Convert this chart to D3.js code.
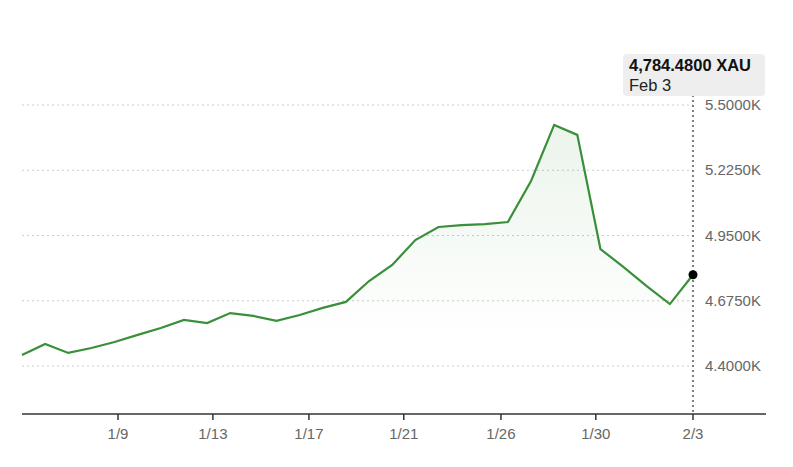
<!DOCTYPE html><html><head><meta charset="utf-8"><script src="https://cdn.jsdelivr.net/npm/d3@7"></script>
<style>body{margin:0;background:#fff}text{font-family:"Liberation Sans",Arial,sans-serif}</style></head><body>
<svg id="c" width="793" height="467"></svg>
<script>
const values=[4446,4493,4455,4476,4501,4531,4560,4594,4581,4623,4611,4590,4615,4645,4670,4758,4826,4931,4986,4994,4998,5007,5180,5416,5374,4893,4817,4737,4661,4784.48];
const tickPos=[4.15,8.25,12.4,16.5,20.7,24.8,29];
const tickLabels=["1/9","1/13","1/17","1/21","1/26","1/30","2/3"];
const yTicks=[4400,4675,4950,5225,5500];
const lastLabel="4,784.4800 XAU", lastDate="Feb 3";
const svg=d3.select("#c");
const x=d3.scaleLinear().domain([0,values.length-1]).range([22,693]);
const y=d3.scaleLinear().domain([4400,5500]).range([366,105]);
const defs=svg.append("defs");
const g=defs.append("linearGradient").attr("id","gr").attr("gradientUnits","userSpaceOnUse").attr("x1",0).attr("x2",0).attr("y1",125).attr("y2",340);
g.append("stop").attr("offset",0).attr("stop-color","#3a8f3a").attr("stop-opacity",0.1);
g.append("stop").attr("offset",1).attr("stop-color","#3a8f3a").attr("stop-opacity",0);
svg.selectAll(".grid").data(yTicks).join("line").attr("x1",22).attr("x2",693).attr("y1",d=>y(d)).attr("y2",d=>y(d)).attr("stroke","#ccc").attr("stroke-dasharray","2,3");
svg.selectAll(".yl").data(yTicks).join("text").attr("x",705).attr("y",d=>y(d)+5).attr("font-size",15).attr("fill","#666").text(d=>d3.format(".4f")(d/1000)+"K");
svg.append("path").datum(values).attr("fill","url(#gr)").attr("d",d3.area().x((d,i)=>x(i)).y0(414).y1(d=>y(d)));
svg.append("line").attr("x1",693).attr("x2",693).attr("y1",95).attr("y2",414).attr("stroke","#555").attr("stroke-width",1.5).attr("stroke-dasharray","2,3");
svg.append("path").datum(values).attr("fill","none").attr("stroke","#3a8f3a").attr("stroke-width",2.2).attr("d",d3.line().x((d,i)=>x(i)).y(d=>y(d)));
svg.append("line").attr("x1",22).attr("x2",766).attr("y1",414).attr("y2",414).attr("stroke","#333").attr("stroke-width",1.5);
tickPos.forEach((t,i)=>{svg.append("line").attr("x1",x(t)).attr("x2",x(t)).attr("y1",414).attr("y2",420).attr("stroke","#333").attr("stroke-width",1.5);
svg.append("text").attr("x",x(t)).attr("y",439).attr("text-anchor","middle").attr("font-size",15).attr("fill","#666").text(tickLabels[i]);});
const li=values.length-1;
svg.append("circle").attr("cx",x(li)).attr("cy",y(values[li])).attr("r",4.5).attr("fill","#000");
svg.append("rect").attr("x",623).attr("y",54).attr("width",142).attr("height",42).attr("rx",4).attr("fill","#eee");
svg.append("text").attr("x",629).attr("y",71).attr("font-size",16.5).attr("font-weight","bold").attr("fill","#111").text(lastLabel);
svg.append("text").attr("x",629).attr("y",91).attr("font-size",16.5).attr("fill","#222").text(lastDate);
</script></body></html>
